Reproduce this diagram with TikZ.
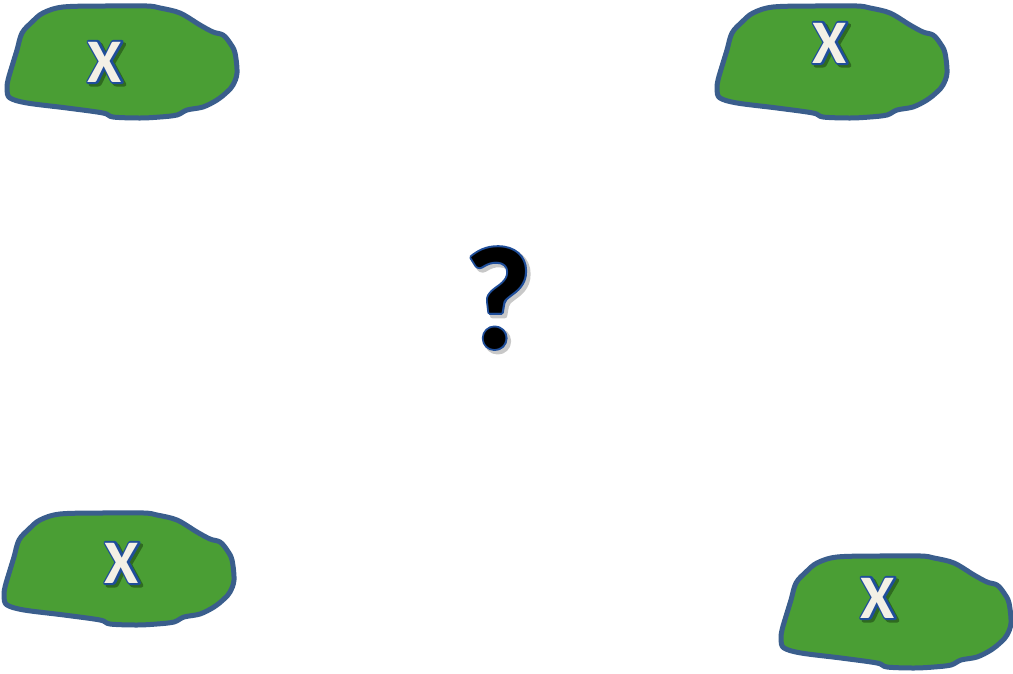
\documentclass[tikz,border=0pt]{standalone}
\usepackage{fontspec}
\setmainfont{Carlito}
\definecolor{blobfill}{HTML}{4A9E34}
\definecolor{blobline}{HTML}{3A5E8C}
\definecolor{xfill}{HTML}{F3F0E6}
\definecolor{xline}{HTML}{1F4E9A}
\definecolor{gshadow}{HTML}{2F6A20}
\definecolor{wshadow}{HTML}{C8C8C8}
\newcommand{\blobshape}{plot[smooth cycle, tension=0.55] coordinates {(63,7) (105,6) (147,6) (160,8) (180,13) (200,25) (213,32) (223,35) (230,43) (235,53) (237,73) (233,85) (227,92) (217,100) (203,107) (187,110) (177,115) (160,117) (140,118) (113,117) (103,113) (67,108) (27,103) (10,98) (7,90) (8,80) (13,63) (17,50) (22,33) (32,22) (43,13)}}
% widened glyph: colour #1 (named), stroke rgb #2, stroke width #3, text #4
\newcommand{\fattext}[4]{{\color{#1}\special{pdf:literal direct 2 Tr #3 w 1 j #2 RG}#4\special{pdf:literal direct 0 Tr}}}
\tikzset{
  blob/.style={fill=blobfill, draw=blobline, line width=5pt, line join=round},
  xmark/.style={inner sep=0pt, anchor=base, font=\bfseries\fontsize{62}{62}\selectfont},
  qmark/.style={inner sep=0pt, anchor=base, font=\bfseries\fontsize{146}{146}\selectfont}
}
\begin{document}
\begin{tikzpicture}[x=1pt, y=-1pt]
\useasboundingbox (0,0) rectangle (1013,673);
% blobs
\foreach \dx/\dy in {0/0, 710/0, -3/507, 774/550}{
  \begin{scope}[shift={(\dx,\dy)}]
    \draw[blob] \blobshape;
  \end{scope}
}
% X labels: shadow, blue rim, cream face
\foreach \n/\cx/\by in {a/105/82, b/830/63, c/122/583, d/878/618}{
  \node[xmark] (\n s) at (\cx+2.5,\by+2.5) {\fattext{gshadow}{0.184 0.416 0.125}{4}{X}};
  \node[xmark] (\n r) at (\cx,\by) {\fattext{xline}{0.122 0.306 0.604}{4}{X}};
  \node[xmark, text=xfill] (\n) at (\cx,\by) {X};
}
% question mark
\node[qmark] (qs) at (501,351) {\fattext{wshadow}{0.784 0.784 0.784}{5}{?}};
\node[qmark] (qr) at (498,348) {\fattext{xline}{0.122 0.306 0.604}{4}{?}};
\node[qmark, text=black] (q) at (498,348) {?};
\end{tikzpicture}
\end{document}
